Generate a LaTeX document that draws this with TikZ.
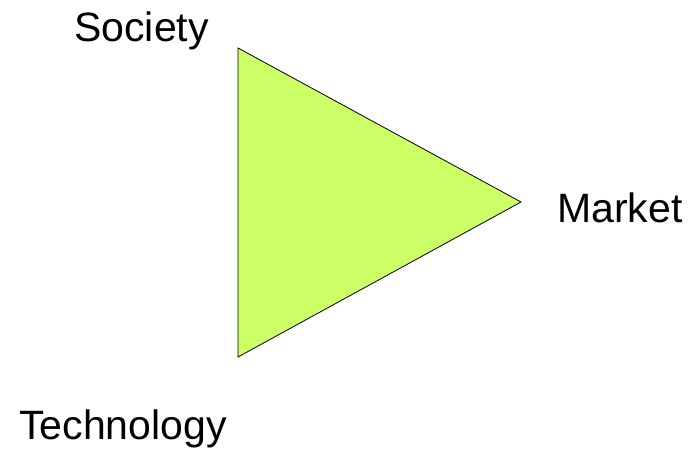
\documentclass[tikz,border=0pt]{standalone}
\usepackage{fontspec}
\setmainfont{Liberation Sans}
\usetikzlibrary{positioning}

\definecolor{lima}{HTML}{CCFF66}

\begin{document}
\begin{tikzpicture}[
    x=1pt, y=1pt,
    etiqueta/.style  = {inner sep=0pt, anchor=base, font=\fontsize{41}{48}\selectfont},
    triangulo/.style = {draw=black, line width=0.8pt, fill=lima, line join=miter},
]

% Marco
\useasboundingbox (0,0) rectangle (693,455);

% Vertices del triangulo
\coordinate (vs) at (238,407);
\coordinate (vm) at (521,253);
\coordinate (vt) at (238,98);

% Triangulo
\draw[triangulo] (vs) -- (vm) -- (vt) -- cycle;

% Etiquetas
\node[etiqueta] (soc) at (141.5,413) {Society};
\node[etiqueta] (mkt) at (620,232)   {Market};
\node[etiqueta] (tec) at (123,16)    {Technology};

\end{tikzpicture}
\end{document}
